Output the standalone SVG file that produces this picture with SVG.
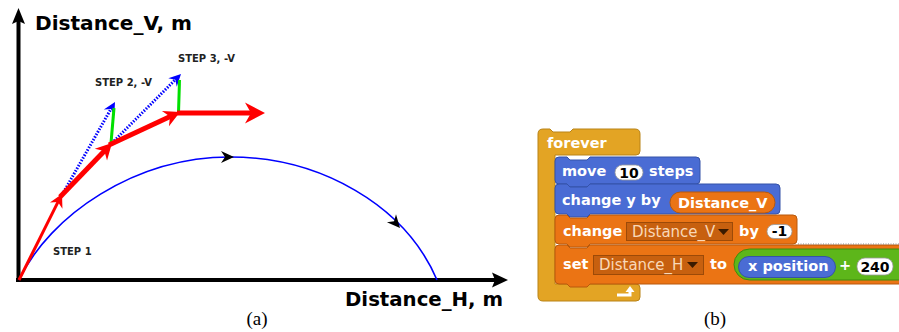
<svg xmlns="http://www.w3.org/2000/svg" width="899" height="332" viewBox="0 0 899 332">
<style>
.ax{stroke:#000;stroke-width:4;fill:none}
.axl{font-family:"DejaVu Sans",sans-serif;font-weight:bold;font-size:20px;fill:#000}
.stp{font-family:"DejaVu Sans",sans-serif;font-weight:bold;font-size:10px;fill:#222}
.cap{font-family:"Liberation Serif",serif;font-size:19px;fill:#000;text-anchor:middle}
.red{stroke:#FF0000;fill:none}
.rh{fill:#FF0000}
.blue{stroke:#0000FF;stroke-width:3;stroke-dasharray:1.5 1.5;fill:none}
.bh{fill:#0000FF}
.grn{stroke:#00E000;stroke-width:3;fill:none}
.curve{stroke:#0000FF;stroke-width:1.6;fill:none}
.bt{font-family:"DejaVu Sans",sans-serif;font-weight:bold;font-size:14.5px;fill:#fff}
.num{font-family:"DejaVu Sans",sans-serif;font-weight:bold;font-size:14px;fill:#000;text-anchor:middle}
.dd{font-family:"DejaVu Sans",sans-serif;font-size:15px;fill:#F9D8B8}
.ctl{fill:#E3A424;stroke:#B98316;stroke-width:1}
.mot{fill:#4A6CD4;stroke:#3552A8;stroke-width:1}
.var{fill:#EB7414;stroke:#B8590C;stroke-width:1}
.ops{fill:#5DB61A;stroke:#3F8A0C;stroke-width:1}
.ddb{fill:#C7600F;stroke:#9C4A08;stroke-width:1}
.inp{fill:#fff;stroke:#999;stroke-width:0.8}
</style>
<defs>
<path id="headS" d="M0,0 L-13,-7 L-9,0 L-13,7 Z"/>
<path id="headM" d="M0,0 L-16,-8.5 L-11,0 L-16,8.5 Z"/>
<path id="headL" d="M0,0 L-20,-10.5 L-14,0 L-20,10.5 Z"/>
<path id="headB" d="M0,0 L-12,-6 L-8,0 L-12,6 Z"/>
<path id="headK" d="M0,0 L-13,-6 L-9,0 L-13,6 Z"/>
</defs>

<g id="panel-a">
  <g id="axes">
    <line class="ax" x1="18.5" y1="282" x2="18.5" y2="20" stroke-width="3.5"/>
    <path d="M18.5,8 L25,24 L18.5,21 L12,24 Z" fill="#000"/>
    <line class="ax" x1="16" y1="280" x2="496" y2="280"/>
    <path d="M508,280 L492,287.5 L495,280 L492,272.5 Z" fill="#000"/>
    <text class="axl" x="35" y="30" textLength="157" lengthAdjust="spacingAndGlyphs">Distance_V, m</text>
    <text class="axl" x="345" y="306" textLength="158" lengthAdjust="spacingAndGlyphs">Distance_H, m</text>
  </g>
  <g id="trajectory">
    <path class="curve" d="M19,280 C50,215 135,157 230,157 C320,157 405,205 437,280"/>
    <use href="#headK" transform="translate(234,157)"/>
    <use href="#headK" transform="translate(400,228) rotate(49)"/>
  </g>
  <g id="connectors">
    <line class="blue" x1="62" y1="195" x2="111.5" y2="108"/>
    <use href="#headB" class="bh" transform="translate(115,102) rotate(-60.3)"/>
    <line class="blue" x1="112" y1="143" x2="176" y2="79"/>
    <use href="#headB" class="bh" transform="translate(181,74) rotate(-45)"/>
    <line class="grn" x1="111" y1="143" x2="114" y2="108"/>
    <line class="grn" x1="178.5" y1="113" x2="179.5" y2="80"/>
    <line class="red" stroke-width="3" x1="19" y1="280" x2="58.4" y2="201.2"/>
    <use href="#headS" class="rh" transform="translate(62,194) rotate(-63.4)"/>
    <line class="red" stroke-width="5" x1="60" y1="197" x2="105.8" y2="149.5"/>
    <use href="#headM" class="rh" transform="translate(112,143) rotate(-46.1)"/>
    <line class="red" stroke-width="5" x1="109" y1="145" x2="171.8" y2="115.7"/>
    <use href="#headM" class="rh" transform="translate(180,112) rotate(-24.5)"/>
    <line class="red" stroke-width="5" x1="177" y1="113" x2="251" y2="113"/>
    <use href="#headL" class="rh" transform="translate(265,113)"/>
  </g>
  <g id="labels">
    <text class="stp" x="53" y="255">STEP 1</text>
    <text class="stp" x="95" y="85.5">STEP 2, -V</text>
    <text class="stp" x="178" y="62">STEP 3, -V</text>
  </g>
  <text class="cap" x="257" y="325">(a)</text>
</g>

<g id="panel-b">
  <g id="forever">
    <path class="ctl" d="M543,129 H550 L553,132 H570 L573,129 H635 Q640,129 640,134 V151 Q640,155 636,155 H555 V284 H636 Q640,284 640,288 V297 Q640,301 636,301 H543 Q538,301 538,296 V134 Q538,129 543,129 Z"/>
    <text class="bt" x="547" y="148">forever</text>
    <path d="M617,295 H630 V291" stroke="#fff" stroke-width="3" fill="none"/>
    <path d="M625.5,292 L634.5,292 L630,286 Z" fill="#fff"/>
  </g>
  <g id="move">
    <path class="mot" d="M559,157 H567 L570,160 H587 L590,157 H696 Q700,157 700,161 V180 Q700,184 696,184 H590 L587,187 H570 L567,184 H559 Q555,184 555,180 V161 Q555,157 559,157 Z"/>
    <text class="bt" x="562" y="176">move</text>
    <rect class="inp" x="615" y="165" width="28" height="15" rx="7.5"/>
    <text class="num" x="629" y="177.5">10</text>
    <text class="bt" x="649" y="176">steps</text>
  </g>
  <g id="change-y">
    <path class="mot" d="M559,184 H567 L570,187 H587 L590,184 H776 Q780,184 780,188 V210 Q780,214 776,214 H590 L587,217 H570 L567,214 H559 Q555,214 555,210 V188 Q555,184 559,184 Z"/>
    <text class="bt" x="562" y="205">change y by</text>
    <rect class="var" x="670" y="192" width="105" height="21" rx="10.5"/>
    <text class="bt" x="678" y="207.5">Distance_V</text>
  </g>
  <g id="change-var">
    <path class="var" d="M559,215 H567 L570,218 H587 L590,215 H793 Q797,215 797,219 V240 Q797,244 793,244 H590 L587,247 H570 L567,244 H559 Q555,244 555,240 V219 Q555,215 559,215 Z"/>
    <text class="bt" x="563" y="236">change</text>
    <rect class="ddb" x="626.5" y="222.5" width="106" height="18"/>
    <text class="dd" x="632" y="236.5">Distance_V</text>
    <path d="M718,229 L729,229 L723.5,235 Z" fill="#3a1a00"/>
    <text class="bt" x="739" y="236">by</text>
    <rect class="inp" x="767" y="224.5" width="25" height="14" rx="7"/>
    <text class="num" x="779.5" y="236">-1</text>
  </g>
  <g id="set">
    <path class="var" d="M559,245 H567 L570,248 H587 L590,245 H905 V284 H590 L587,287 H570 L567,284 H559 Q555,284 555,280 V249 Q555,245 559,245 Z"/>
    <line x1="798" y1="244" x2="899" y2="244" stroke="#888" stroke-width="1" stroke-dasharray="1 1.5"/>
    <text class="bt" x="563" y="269">set</text>
    <rect class="ddb" x="593.5" y="255.5" width="110" height="19"/>
    <text class="dd" x="599" y="269.5">Distance_H</text>
    <path d="M687,262 L698,262 L692.5,268 Z" fill="#3a1a00"/>
    <text class="bt" x="710" y="269">to</text>
    <rect class="ops" x="734" y="249" width="180" height="31" rx="15.5"/>
    <rect class="mot" x="738.5" y="256.5" width="97" height="21" rx="10.5"/>
    <text class="bt" x="748" y="271">x position</text>
    <text class="bt" x="839" y="270">+</text>
    <rect class="inp" x="857" y="258" width="36" height="17" rx="8"/>
    <text class="num" x="875" y="271.5">240</text>
  </g>
  <text class="cap" x="715" y="325">(b)</text>
</g>
</svg>
